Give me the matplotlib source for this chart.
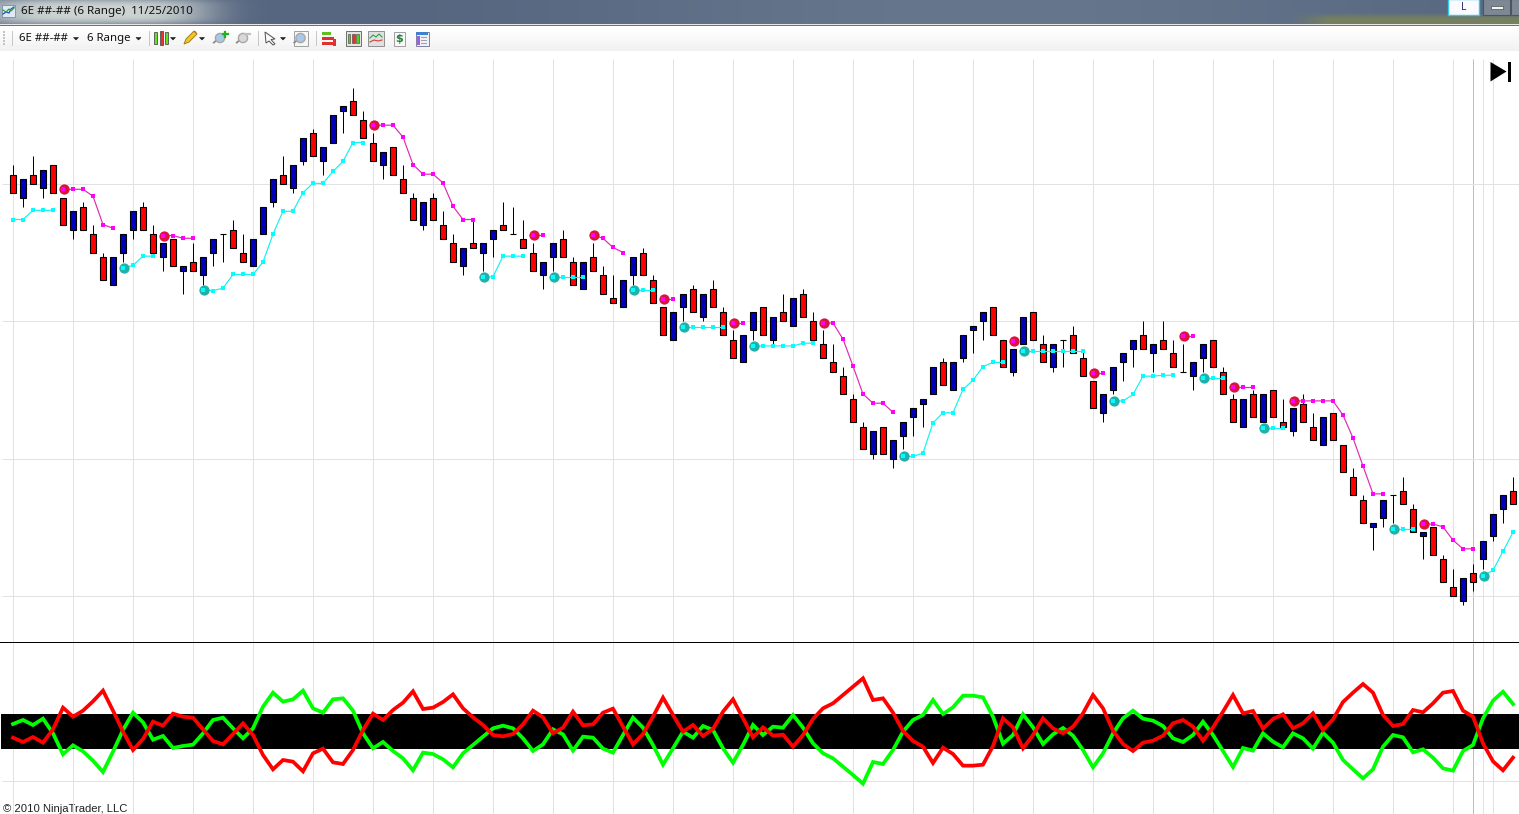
import matplotlib
matplotlib.use("Agg")
import matplotlib.pyplot as plt
from matplotlib.patches import Rectangle, Polygon, Circle
import numpy as np

# price data in ticks above the lowest grid line, one bar every 6 ticks of range
opens = [92,87,92,89,94,87,80,85,79,74,68,75,80,85,79,74,78,71,73,70,75,79,80,75,72,79,86,92,89,95,101,95,99,106,108,104,99,94,98,91,87,81,87,81,77,72,77,75,78,
         81,79,78,75,70,74,78,73,67,74,70,65,63,70,75,69,63,56,63,67,61,67,62,56,51,58,63,56,62,59,66,60,55,51,48,43,37,31,37,30,35,39,42,44,51,45,52,58,60,63,
         56,49,55,62,55,50,56,57,52,47,40,45,51,54,57,53,56,53,49,48,52,56,49,43,37,44,38,45,38,36,42,37,33,40,33,26,21,15,17,22,23,19,13,15,8,2,-1,5,8,13,19,23]
closes = [88,91,90,93,88,81,84,80,75,69,74,79,84,80,75,77,72,72,71,74,78,79,76,73,78,85,91,90,94,100,96,98,105,107,105,100,95,97,92,88,82,86,82,78,73,76,76,77,80,
          80,79,76,71,73,77,74,68,73,71,66,64,69,74,70,64,57,62,66,62,66,63,57,52,57,62,57,61,60,65,61,56,52,49,44,38,32,36,31,34,38,41,43,50,46,51,57,59,62,57,
          50,54,61,56,51,55,56,53,48,41,44,50,53,56,54,55,54,50,49,51,55,50,44,38,43,39,44,39,37,41,38,34,39,34,27,22,16,16,21,22,20,14,14,9,3,0,4,3,12,18,22,20]
highs = [94,91,96,93,94,87,84,86,81,75,74,79,84,86,81,77,78,72,77,74,78,79,82,79,78,85,91,96,94,100,102,98,105,107,111,106,101,97,98,94,88,86,88,84,79,76,82,77,80,
         86,85,82,77,73,77,80,74,73,77,72,70,69,74,76,70,63,62,66,68,66,69,63,58,57,62,63,61,66,65,67,62,58,55,50,44,38,36,37,34,38,41,43,50,52,51,57,59,62,63,
         56,54,61,62,57,55,56,59,54,47,44,50,53,56,60,55,60,56,55,51,55,56,50,44,43,45,44,45,43,41,44,40,39,40,33,28,22,16,21,22,26,20,14,15,9,6,4,7,12,18,22,26]
lows = [88,85,90,87,88,81,78,80,75,69,68,73,78,80,75,71,72,66,71,68,72,73,76,73,72,79,85,90,88,94,96,92,99,101,105,100,95,91,92,88,82,80,82,78,73,70,76,71,74,
        80,79,76,71,67,71,74,68,67,71,66,64,63,68,70,64,57,56,60,62,60,63,57,52,51,56,57,55,60,59,61,56,52,49,44,38,32,30,31,28,32,35,37,44,46,45,51,53,56,57,
        50,48,55,56,51,49,50,53,48,41,38,44,47,50,54,49,54,50,49,45,49,50,44,38,37,39,38,39,37,35,38,34,33,34,27,22,16,10,15,16,20,14,8,9,3,0,-2,1,6,12,16,20]

# trailing stop pieces: bar where each piece starts, then its values
cyan_starts = [0, 11, 19, 47, 54, 62, 67, 74, 89, 101, 110, 119, 125, 138, 147]
cyan_vals = [[82.2,82.2,84.2,84.2,84.2],
             [71.6,72.2,74.2,74.2],
             [66.8,66.7,67.2,70.2,70.2,70.2,72.9,79,84,84,88.1,90.1,90.1,92.7,94.9,99,99],
             [69.7,69.7,74.2,74.2,74.2],
             [69.65,69.65,69.65,69.65],
             [66.8,66.8,66.8],
             [58.7,58.7,58.7,58.7,58.7],
             [54.6,54.6,54.6,54.6,54.6,55.2,55.2],
             [30.5,30.5,31.2,37.8,40,40,45.1,47.1,50.1,51,51],
             [53.5,53.5,53.5,53.5,53.5,53.5,53.5],
             [42.6,42.6,44,48,48,48.2,48.2],
             [47.5,47.5,47.5],
             [36.7,36.7,36.7],
             [14.6,14.6,14.6],
             [4.4,5.6,9.75,13.9]]
pink_starts = [5, 15, 36, 52, 58, 65, 72, 81, 100, 108, 117, 122, 128, 141]
pink_vals = [[88.8,88.8,88.8,87.3,81.1,80.3],
             [78.7,78.7,78.1,78.1],
             [102.8,102.8,102.8,100.2,94.2,92.1,92.1,90.2,85.1,82.2,82.2],
             [78.8,78.8],
             [78.8,78.1,76.1,75],
             [64.8,64.8],
             [59.6,59.6],
             [59.6,59.6,56.1,50.2,44.1,42.1,42.1,40.1],
             [55.7],
             [48.7,48.7],
             [56.8,56.8],
             [45.6,45.6,45.6],
             [42.6,42.6,42.6,42.6,42.6,39.5,34.5,28.4,22.3,22.3],
             [15.7,15.7,15.1,12.2,10.3,10.3]]

# lower panel
green_line = [54.5,56.9,53.9,57.7,48.9,36.3,41.7,38.1,32.5,25.7,37.9,50.9,61.3,55.5,45.1,47.3,40.1,41.3,42.1,48.9,56.9,58.3,51.9,45.9,51.9,64.9,73.3,67.9,69.3,74.5,63.9,61.3,69.3,69.9,62.5,48.9,39.9,43.7,38.3,33.9,26.7,37.3,36.5,33.3,28.5,36.9,41.9,46.9,51.9,
              53.5,51.9,45.9,38.3,42.3,51.3,48.3,38.5,46.9,46.3,39.7,37.3,47.9,58.3,52.3,41.9,30.1,39.9,49.9,46.3,53.3,50.9,39.9,31.3,41.9,53.9,47.9,52.9,52.3,59.9,52.3,42.9,36.9,33.9,28.9,23.9,18.7,31.7,30.5,38.9,49.9,56.9,59.9,68.9,60.5,64.5,71.5,71.5,70.5,58.9,
              42.7,47.9,60.3,52.5,42.5,48.3,52.1,47.5,38.9,28.5,36.9,48.9,57.9,62.5,57.7,56.5,53.3,45.9,43.7,47.9,55.9,47.9,38.3,28.7,40.1,38.5,48.9,43.9,40.5,48.9,45.9,39.7,49.3,43.3,32.9,27.3,21.9,27.3,40.9,47.9,46.5,37.5,39.3,34.3,27.9,26.5,38.3,41.9,57.9,68.5,73.9,66.5]
red_line = [46.3,43.7,46.7,43.3,51.3,64.3,58.9,62.5,68.1,74.5,62.5,49.9,38.9,45.5,55.9,53.5,60.7,58.9,58.3,51.3,44.3,42.3,48.5,54.9,47.9,35.9,27.3,32.9,31.9,26.1,36.9,39.7,31.5,30.5,38.9,50.9,60.7,56.9,62.9,67.3,74.1,63.5,64.3,67.7,72.3,63.9,58.5,53.9,47.9,
            47.1,48.5,54.3,62.5,58.5,48.9,52.3,61.9,53.7,54.3,61.3,63.7,52.9,42.3,48.5,58.9,70.3,59.9,49.9,53.9,47.3,51.5,61.9,69.3,57.9,46.5,52.5,47.5,48.1,40.9,47.9,57.5,63.9,66.9,71.9,76.9,81.9,68.9,69.9,61.3,50.3,44.3,40.9,31.1,40.3,36.5,29.5,29.5,30.1,41.3,
            57.9,52.5,39.9,47.9,57.9,51.9,48.9,52.9,60.9,71.9,63.9,50.5,42.5,38.3,43.3,44.5,47.5,54.9,56.9,52.9,44.5,52.5,61.9,71.9,60.9,62.3,51.7,57.5,60.3,51.9,54.9,60.9,50.9,57.3,67.7,73.3,78.5,73.3,59.9,53.3,54.5,62.9,61.5,66.9,73.3,74.3,62.5,58.9,42.9,32.1,26.7,34.3]

price_grid = [0, 30, 60, 90]
bar_grid = list(range(0, 145, 6)) + [147, 148]
session_bar = 146
title_text = "6E ##-## (6 Range)  11/25/2010"
copyright_text = "© 2010 NinjaTrader, LLC"

W, H = 1519, 814
fig = plt.figure(figsize=(W/100, H/100), dpi=100, facecolor="white")
PX = 0.72  # one pixel in points
GRID = "#e2e2e2"
XLIM = (-1.30, 150.6)

# pixel axes for the window frame
frame = fig.add_axes([0, 0, 1, 1], zorder=0)
frame.set_xlim(0, W)
frame.set_ylim(H, 0)
frame.axis("off")

# title bar, aero style blur
xx, yy = np.meshgrid(np.arange(W), np.arange(24))
bar_img = np.zeros((24, W, 3))
bar_img[..., 0] = 94 - 8*np.sin(xx/210.0)
bar_img[..., 1] = 110 - 8*np.sin(xx/210.0)
bar_img[..., 2] = 134 - 6*np.sin(xx/210.0)
glow = np.exp(-((xx-95)/115.0)**4) * np.exp(-((yy-11)/13.0)**4)
olive = np.clip((xx-1290)/40.0, 0, 1) * np.clip((yy-12)/6.0, 0, 1)
for c, (g, o) in enumerate(zip((205, 212, 210), (118, 128, 96))):
    bar_img[..., c] = bar_img[..., c]*(1-glow) + g*glow
    bar_img[..., c] = bar_img[..., c]*(1-olive) + o*olive
frame.imshow(bar_img/255.0, extent=[0, W, 24, 0], aspect="auto", interpolation="bilinear", zorder=1)
frame.set_xlim(0, W)
frame.set_ylim(H, 0)
frame.add_patch(Rectangle((0, 24), W, 1.2, fc="#e8e8e8", ec="none", zorder=2))
frame.add_patch(Rectangle((0, 25), W, 1, fc="#707070", ec="none", zorder=2))
tool_img = np.linspace(1.0, 0.945, 25).reshape(-1, 1)
frame.imshow(tool_img, extent=[0, W, 51, 26], aspect="auto", cmap="gray", vmin=0, vmax=1, zorder=1)
frame.set_xlim(0, W)
frame.set_ylim(H, 0)

frame.text(21, 11.5, title_text, fontsize=8.35, family="Noto Sans", color="#101010", va="center", zorder=3)
frame.text(19, 38.5, "6E ##-##", fontsize=8.2, family="Noto Sans", color="#101010", va="center", zorder=3)
frame.text(87, 38.5, "6 Range", fontsize=8.2, family="Noto Sans", color="#101010", va="center", zorder=3)
frame.text(3, 808.5, copyright_text, fontsize=8.15, family="Liberation Sans", color="#202020", va="center", zorder=6)

def box(x, y, w, h, fc, ec="none", lw=0.7):
    frame.add_patch(Rectangle((x, y), w, h, fc=fc, ec=ec, lw=lw, zorder=3))

def drop(x):
    frame.add_patch(Polygon([(x-2.5, 37.5), (x+2.5, 37.5), (x, 40)], fc="#202020", ec="#202020", lw=0.4, zorder=3))

def lens(x, y, col):
    frame.add_patch(Rectangle((x-7.5, y+4.5), 5, 1.8, angle=-40, fc="#8a8a8a", ec="none", zorder=3))
    frame.add_patch(Circle((x, y), 4.6, fc=col, ec="#a8a8a8", lw=1, zorder=4))

# title icon
box(2, 5, 13, 12, "#dfe8f4", "#7090b0", 0.6)
frame.plot([3, 6, 9, 11, 14], [14, 12, 13, 9, 7], color="#2050c0", lw=0.9, zorder=4)
frame.plot([3, 6, 9, 11, 14], [10, 12, 9, 11, 8], color="#30a040", lw=0.9, zorder=4)

# window buttons
box(1448, -1, 31, 16, "#fbfbff", "#35c8e8", 1.0)
frame.text(1463.5, 7, "L", fontsize=7.5, family="Noto Sans", color="#303070", ha="center", va="center", zorder=4)
box(1483, -1, 27, 16, "#7d8894", "#4a5560", 0.8)
box(1491, 6, 12, 3, "#f4f4f4", "#303030", 0.4)
box(1511, -1, 10, 16, "#7d8894", "#4a5560", 0.8)

# toolbar
for gy in range(31, 45, 3):
    box(3, gy, 2, 1.6, "#c4c4c4")
for sx in (12, 148.5, 258, 316):
    box(sx, 31, 1, 15, "#c8c8c8")
drop(76)
drop(138.5)
for cx, top, bot, col in ((155.5, 32, 44, "#66e020"), (161, 31, 45, "#e83030"), (166.5, 32, 44, "#66e020")):
    box(cx-1.5, top, 3, bot-top, col, "#505050", 0.6)
drop(173)
frame.add_patch(Polygon([(184, 44), (186, 39), (194, 31), (197, 34), (189, 42)], fc="#f2c820", ec="#a08020", lw=0.7, zorder=3))
frame.add_patch(Polygon([(194, 31), (196, 31.5), (197, 34), (195, 33)], fc="#e05050", ec="none", zorder=4))
drop(202)
lens(220, 38, "#a8c8e8")
frame.plot([222.5, 227.5], [34, 34], color="#20b020", lw=1.6, zorder=5)
frame.plot([225, 225], [31.5, 36.5], color="#20b020", lw=1.6, zorder=5)
lens(243, 38, "#d8d8d8")
frame.plot([245, 250], [34, 34], color="#c0c0c0", lw=1.6, zorder=5)
frame.add_patch(Polygon([(265, 32), (275, 39), (271, 39.5), (275, 44), (273, 45), (269, 41), (266, 43)], fc="#fafafa", ec="#505050", lw=0.7, zorder=3))
drop(283)
box(294, 31, 13.5, 15, "#f6f6f6", "#a0a0a0", 0.7)
lens(300.5, 38, "#a8c8e8")
for ry, rw, col in ((32, 9, "#60c020"), (37, 12, "#e03030"), (42, 14, "#e03030")):
    box(322, ry, rw, 3.4, col)
box(333, 39, 3, 7, "#e03030")
box(346, 31, 14.5, 15, "#e4e4e4", "#707070", 0.7)
for cx, col in ((349, "#50d020"), (353.5, "#e83030"), (357.5, "#50d020")):
    box(cx-1.2, 33.5, 2.6, 9.5, col, "#404040", 0.4)
box(368, 31, 15.5, 15, "#e0e0e0", "#909090", 0.7)
frame.plot([370, 373, 376, 379, 382], [38, 35, 37, 34, 37], color="#30a040", lw=0.8, zorder=4)
frame.plot([370, 374, 378, 382], [42, 40, 41, 40], color="#d04040", lw=0.8, zorder=4)
box(393.5, 32, 11, 14, "#f8f8f8", "#a0a0a0", 0.7)
frame.text(399, 39, "$", fontsize=8, fontweight="bold", color="#208030", ha="center", va="center", zorder=4)
box(415.5, 31.5, 13, 14.5, "#eef0f8", "#8080a0", 0.7)
box(416, 32, 12, 3, "#4080d0")
box(417, 36, 2.5, 8.5, "#a060e0")
for ly in (37, 40, 43):
    box(421, ly, 6, 0.8, "#a0a0b0")

# price panel
ax = fig.add_axes([0, (H-642)/H, 1, (642-59)/H], zorder=2)
ax.patch.set_alpha(0)
ax.set_xlim(*XLIM)
ax.set_ylim((596.0-642)/4.58, (596.0-59)/4.58)
for s in ax.spines.values():
    s.set_visible(False)
ax.set_xticks([])
ax.set_yticks([])
ax.vlines(bar_grid, *ax.get_ylim(), color=GRID, lw=PX, zorder=1)
ax.vlines(session_bar, *ax.get_ylim(), color="#bdbdbd", lw=PX, zorder=1)
ax.hlines(price_grid, -1.1, XLIM[1], color=GRID, lw=PX, zorder=1)

bars = np.arange(len(opens))
op = np.array(opens, dtype=float)
cl = np.array(closes, dtype=float)
colors = ["#ff0000" if c < o else "#0000b8" if c > o else "black" for o, c in zip(op, cl)]
ax.vlines(bars, lows, highs, color="black", lw=PX, zorder=2)
ax.bar(bars, cl-op, bottom=op, width=0.6, color=colors, edgecolor="black", linewidth=PX*1.1, zorder=3)

def trail(starts, vals, line_col, mark_col, dot_col):
    for st, v in zip(starts, vals):
        idx = np.arange(st, st+len(v))
        ax.plot(idx, v, color=line_col, lw=PX*1.2, zorder=4)
        # the piece already running at the left edge has no start dot
        if st > 0:
            ax.plot(st+0.05, v[0], "o", color=dot_col, ms=7.4, mew=0, zorder=5)
        ax.plot(idx, v, "s", color=mark_col, ms=2.9, mew=0, zorder=6)

trail(cyan_starts, cyan_vals, "#19f0f0", "#00ffff", "#20b2aa")
trail(pink_starts, pink_vals, "#e02cb0", "#ff00ff", "#dc143c")

# skip to end button
frame2 = fig.add_axes([0, 0, 1, 1], zorder=3)
frame2.patch.set_alpha(0)
frame2.set_xlim(0, W)
frame2.set_ylim(H, 0)
frame2.axis("off")
frame2.add_patch(Polygon([(1490.5, 62), (1490.5, 81.5), (1506.5, 71.5)], fc="black", ec="none"))
frame2.add_patch(Rectangle((1507.5, 62), 3.5, 19.5, fc="black", ec="none"))
frame2.plot([0, W], [641.9, 641.9], color="black", lw=PX)

# lower panel
ax2 = fig.add_axes([0, 0, 1, (H-643)/H], zorder=1)
ax2.patch.set_alpha(0)
ax2.set_xlim(*XLIM)
ax2.set_ylim(0.5, 103.1)
for s in ax2.spines.values():
    s.set_visible(False)
ax2.set_xticks([])
ax2.set_yticks([])
ax2.vlines(bar_grid, *ax2.get_ylim(), color=GRID, lw=PX, zorder=1)
ax2.vlines(session_bar, *ax2.get_ylim(), color="#bdbdbd", lw=PX, zorder=1)
ax2.hlines(20.4, -1.1, XLIM[1], color=GRID, lw=PX, zorder=1)
ax2.axhspan(39.5, 60.5, xmin=1/W, color="black", lw=0, zorder=2)
ax2.plot(bars, green_line, color="#00ff00", lw=2.7, solid_joinstyle="miter", zorder=3)
ax2.plot(bars, red_line, color="#ff0000", lw=2.7, solid_joinstyle="miter", zorder=4)

fig.savefig("out.png", dpi=100)
